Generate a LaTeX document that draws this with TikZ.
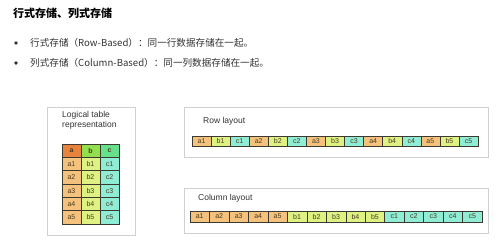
\documentclass[tikz,border=0pt]{standalone}
\usepackage{fontspec}
\setmainfont{Liberation Sans}
\newfontfamily\cjk{Noto Sans CJK SC}
\usetikzlibrary{positioning,shadows}

\definecolor{colA}{HTML}{F4C27C}
\definecolor{headA}{HTML}{E8833E}
\definecolor{colB}{HTML}{DDF283}
\definecolor{headB}{HTML}{92E04E}
\definecolor{colC}{HTML}{90EDD5}
\definecolor{headC}{HTML}{66E08A}
\definecolor{panelline}{HTML}{CDD0D4}
\definecolor{cellline}{HTML}{3C3A30}
\definecolor{celltext}{HTML}{4A3A20}
\definecolor{bodytext}{HTML}{333333}

\begin{document}
\begin{tikzpicture}[
      x=1pt, y=-1pt,
      panel/.style={
          rectangle, draw=panelline, fill=white, line width=0.8pt,
          anchor=north west, inner sep=0pt
      },
      caption/.style={
          anchor=west, text=bodytext, align=left, inner sep=0pt,
          font=\fontsize{8.5}{10.5}\selectfont
      },
      cell/.style={
          rectangle, draw=cellline, line width=0.5pt, inner sep=0pt,
          text=celltext, font=\fontsize{7}{7}\selectfont
      },
      strip/.style={
          rectangle, fill=cellline, inner sep=0pt, anchor=north west,
          drop shadow={shadow xshift=1pt, shadow yshift=-1pt, opacity=.45}
      }
  ]
    \useasboundingbox (0,0) rectangle (500,246);

    % Title and bullet lines
    \node[anchor=west, inner sep=0pt, font=\cjk\bfseries\fontsize{11}{12}\selectfont]
        (title) at (13,13) {行式存储、列式存储};
    \fill[bodytext] (16,43) circle (1.8) coordinate (dot1);
    \fill[bodytext] (16,63) circle (1.8) coordinate (dot2);
    \node[anchor=west, inner sep=0pt, text=bodytext, font=\cjk\fontsize{9.6}{11}\selectfont]
        (rowtext) at (30,43) {行式存储（Row-Based）：同一行数据存储在一起。};
    \node[anchor=west, inner sep=0pt, text=bodytext, font=\cjk\fontsize{9.6}{11}\selectfont]
        (coltext) at (30,63) {列式存储（Column-Based）：同一列数据存储在一起。};

    % (a) Logical table panel
    \node[panel, minimum width=88, minimum height=128] (logical) at (47,107) {};
    \node[caption, anchor=north west] (logicallabel) at (62,111)
        {Logical table\\representation};
    \node[strip, minimum width=57, minimum height=80] (tblframe) at (62,144) {};
    \foreach \col/\hc/\cc [count=\j] in {a/headA/colA, b/headB/colB, c/headC/colC} {
        \node[cell, fill=\hc, minimum width=19, minimum height=13.33,
              font=\bfseries\fontsize{7}{7}\selectfont]
            (t-\col-0) at ({62+19*(\j-1)+9.5}, 150.67) {\col};
        \foreach \r in {1,...,5}
            \node[cell, fill=\cc, minimum width=19, minimum height=13.33]
                (t-\col-\r) at ({62+19*(\j-1)+9.5}, {144+13.33*\r+6.67}) {\col\r};
    }

    % (b) Row layout panel
    \node[panel, minimum width=304, minimum height=50] (rowpanel) at (184,107) {};
    \node[caption] (rowlabel) at (203,121) {Row layout};
    \node[strip, minimum width=286, minimum height=9.5] (rowframe) at (192,136.5) {};
    \foreach \r in {1,...,5}
        \foreach \col/\cc [count=\j] in {a/colA, b/colB, c/colC} {
            \pgfmathtruncatemacro\k{3*(\r-1)+\j}
            \node[cell, fill=\cc, minimum width=19.07, minimum height=9.5]
                (row-\k) at ({192+19.07*(\k-1)+9.53}, 141.25) {\col\r};
        }

    % (c) Column layout panel
    \node[panel, minimum width=304, minimum height=45] (colpanel) at (184,188) {};
    \node[caption] (collabel) at (198,198) {Column layout};
    \node[strip, minimum width=292, minimum height=11] (colframe) at (190,211) {};
    \foreach \col/\cc [count=\j] in {a/colA, b/colB, c/colC}
        \foreach \r in {1,...,5} {
            \pgfmathtruncatemacro\k{5*(\j-1)+\r}
            \node[cell, fill=\cc, minimum width=19.47, minimum height=11]
                (col-\k) at ({190+19.47*(\k-1)+9.73}, 216.5) {\col\r};
        }
\end{tikzpicture}
\end{document}
